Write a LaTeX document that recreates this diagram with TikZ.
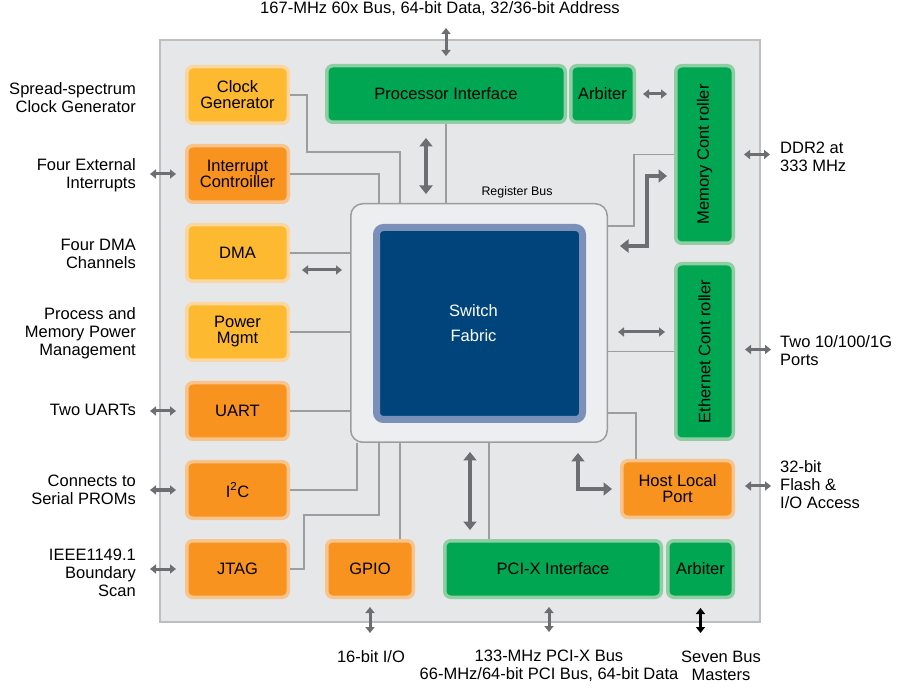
\documentclass[tikz,border=0pt]{standalone}
\usepackage{fontspec}
\setmainfont{Liberation Sans}
\usetikzlibrary{arrows.meta}
\definecolor{diebg}{HTML}{E6E7E8}
\definecolor{dieedge}{HTML}{BDBEC0}
\definecolor{busgray}{HTML}{9C9D9F}
\definecolor{arrgray}{HTML}{6D6E71}
\definecolor{yelfill}{HTML}{FDB92F}
\definecolor{yelhalo}{HTML}{FAD6A0}
\definecolor{orgfill}{HTML}{F7931E}
\definecolor{orghalo}{HTML}{F8C48E}
\definecolor{grnfill}{HTML}{00A651}
\definecolor{grnhalo}{HTML}{8FCEA3}
\definecolor{fabfill}{HTML}{00447C}
\definecolor{fabedge}{HTML}{7B90B9}
\begin{document}
\begin{tikzpicture}[x=1pt, y=-1pt]
\tikzstyle{blk}=[rectangle, rounded corners=6pt, line width=3.5pt, inner sep=0pt, align=center, font=\fontsize{16.5}{16}\selectfont]
\tikzstyle{yel}=[blk, fill=yelfill, draw=yelhalo]
\tikzstyle{org}=[blk, fill=orgfill, draw=orghalo]
\tikzstyle{grn}=[blk, fill=grnfill, draw=grnhalo]
\tikzstyle{lft}=[minimum width=101.5pt, minimum height=56.5pt]
\tikzstyle{bus}=[draw=busgray, line width=1.6pt]
\tikzstyle{biarr}=[{Triangle[length=6pt,width=9pt]}-{Triangle[length=6pt,width=9pt]}, draw=arrgray, line width=3pt]
\tikzstyle{fat}=[{Triangle[length=8.5pt,width=13pt]}-{Triangle[length=8.5pt,width=13pt]}, draw=arrgray, line width=4.5pt, line join=miter]
\tikzstyle{lbl}=[inner sep=0pt, font=\fontsize{16.5}{18}\selectfont]
\useasboundingbox (0,0) rectangle (900,700);
\fill[white] (0,0) rectangle (900,700);
\node[fill=diebg, draw=dieedge, line width=1.2pt, minimum width=600pt, minimum height=582pt] (die) at (460,331) {};
% switch fabric
\node[fill=diebg!70!white, draw=busgray, line width=1.5pt, rounded corners=12pt, minimum width=256.5pt, minimum height=238.5pt] (sw) at (479,323) {};
\node[fill=fabfill, draw=fabedge, line width=7pt, rounded corners=7pt, minimum width=206pt, minimum height=192pt,
  label={[xshift=-6pt, text=white, align=center, font=\fontsize{16.5}{25}\selectfont]center:{Switch\\ Fabric}}] (fab) at (479.5,323.5) {};
\node[font=\fontsize{12.4}{14}\selectfont, inner sep=0pt] (rbus) at (517,192) {Register Bus};
% left column
\node[yel, lft] (clk)  at (237.5,95)  {Clock\\Generator};
\node[org, lft] (irq)  at (237.5,174) {Interrupt\\Controiller};
\node[yel, lft] (dma)  at (237.5,253) {DMA};
\node[yel, lft] (pwr)  at (237.5,332) {Power\\Mgmt};
\node[org, lft] (uart) at (237.5,411) {UART};
\node[org, lft] (iic)  at (237.5,490) {I\textsuperscript{2}C};
\node[org, lft] (jtag) at (237.5,569) {JTAG};
\node[org, minimum width=86.5pt, minimum height=56.5pt] (gpio) at (370,569) {GPIO};
% top, right and bottom
\node[grn, minimum width=238.5pt, minimum height=56.5pt] (proc) at (446,94) {Processor Interface};
\node[grn, minimum width=63.5pt, minimum height=56.5pt] (arb1) at (602.5,94) {Arbiter};
\node[grn, minimum width=57.5pt, minimum height=177.5pt] (mem) at (704.5,154.5) {};
\node[rotate=90, font=\fontsize{16.5}{16}\selectfont] (memt) at (mem.center) {Memory Cont roller};
\node[grn, minimum width=57.5pt, minimum height=175.5pt] (eth) at (704.5,351.5) {};
\node[rotate=90, font=\fontsize{16.5}{16}\selectfont] (etht) at (eth.center) {Ethernet Cont roller};
\node[org, minimum width=111.5pt, minimum height=56.5pt] (host) at (677.5,489) {Host Local\\Port};
\node[grn, minimum width=216.5pt, minimum height=56.5pt] (pci) at (553,569) {PCI-X Interface};
\node[grn, minimum width=65.5pt, minimum height=56.5pt] (arb2) at (700.5,569) {Arbiter};
% register bus lines
\draw[bus] (clk.east) -| (307,152) -| ([xshift=50pt]sw.north west);
\draw[bus] (irq.east) -| ([xshift=29pt]sw.north west);
\draw[bus] (proc.south) -- (proc.south |- sw.north);
\draw[bus] (dma.east) -- (dma.east -| sw.west);
\draw[bus] (pwr.east) -- (pwr.east -| sw.west);
\draw[bus] (uart.east) -- (uart.east -| sw.west);
\draw[bus] (iic.east) -| ([xshift=7pt]sw.south west);
\draw[bus] (jtag.east) -| (304,515) -| ([xshift=29pt]sw.south west);
\draw[bus] ([xshift=30pt]gpio.north) -- ([xshift=50pt]sw.south west);
\draw[bus] ([xshift=-64pt]pci.north) -- ([xshift=139pt]sw.south west);
\draw[bus] (mem.west) -| (634,226) -- ([yshift=-23pt]sw.north east);
\draw[bus] (eth.west) -- (eth.west -| sw.east);
\draw[bus] ([xshift=-41.5pt]host.north) |- ([yshift=30pt]sw.south east);
% data paths
\draw[fat] ([xshift=-20pt,yshift=-14pt]proc.south) -- ([xshift=-53pt,yshift=9pt]sw.north);
\draw[biarr] ([xshift=12pt,yshift=-17pt]dma.east) -- ([xshift=-8pt,yshift=53pt]sw.west);
\draw[biarr] ([xshift=7pt]arb1.east) -- ([xshift=-7pt,yshift=60.5pt]mem.west);
\draw[fat] ([xshift=12pt,yshift=-43pt]sw.north east) -| (647,176) -- ([xshift=-7pt,yshift=-21.5pt]mem.west);
\draw[biarr] ([xshift=10pt,yshift=-9pt]sw.east) -- ([xshift=-9pt,yshift=19.5pt]eth.west);
\draw[fat] ([xshift=-30pt,yshift=-10pt]sw.south east) |- ([xshift=-8pt]host.west);
\draw[fat] ([xshift=-9pt,yshift=-9pt]sw.south) -- ([xshift=-83pt,yshift=9pt]pci.north);
% pins
\draw[biarr] ([yshift=8pt]proc.north) -- ([yshift=36pt]proc.north);
\draw[biarr] ([xshift=9pt]mem.east) -- ([xshift=35pt]mem.east);
\draw[biarr] ([xshift=10pt,yshift=2pt]eth.east) -- ([xshift=36pt,yshift=2pt]eth.east);
\draw[biarr] ([xshift=10pt,yshift=3pt]host.east) -- ([xshift=36pt,yshift=3pt]host.east);
\draw[biarr] ([xshift=-9pt]irq.west) -- ([xshift=-35pt]irq.west);
\draw[biarr] ([xshift=-9pt]uart.west) -- ([xshift=-35pt]uart.west);
\draw[biarr] ([xshift=-9pt]iic.west) -- ([xshift=-35pt]iic.west);
\draw[biarr] ([xshift=-9pt]jtag.west) -- ([xshift=-35pt]jtag.west);
\draw[biarr] ([yshift=-8pt]gpio.south) -- ([yshift=-34pt]gpio.south);
\draw[biarr] ([xshift=-4pt,yshift=-8pt]pci.south) -- ([xshift=-4pt,yshift=-33pt]pci.south);
\draw[biarr, draw=black] ([yshift=-9pt]arb2.south) -- ([yshift=-34pt]arb2.south);
% outside labels
\node[lbl] (topl) at (440,9) {167-MHz 60x Bus, 64-bit Data, 32/36-bit Address};
\node[lbl, anchor=east, align=right] (clkl)  at (136,98)  {Spread-spectrum\\Clock Generator};
\node[lbl, anchor=east, align=right] (irql)  at (136,175.5) {Four External\\Interrupts};
\node[lbl, anchor=east, align=right] (dmal)  at (136,253.5) {Four DMA\\Channels};
\node[lbl, anchor=east, align=right] (pwrl)  at (136,333) {Process and\\Memory Power\\Management};
\node[lbl, anchor=east, align=right] (uartl) at (136,410) {Two UARTs};
\node[lbl, anchor=east, align=right] (iicl)  at (136,489.5) {Connects to\\Serial PROMs};
\node[lbl, anchor=east, align=right] (jtagl) at (136,573) {IEEE1149.1\\Boundary\\Scan};
\node[lbl, anchor=west, align=left] (meml)  at (780,156.5) {DDR2 at\\333 MHz};
\node[lbl, anchor=west, align=left] (ethl)  at (780,350.5) {Two 10/100/1G\\Ports};
\node[lbl, anchor=west, align=left] (hostl) at (780,485) {32-bit\\Flash \&\\I/O Access};
\node[lbl] (gpiol) at (371,657) {16-bit I/O};
\node[lbl, align=center] (pcil) at (549,666) {133-MHz PCI-X Bus\\66-MHz/64-bit PCI Bus, 64-bit Data};
\node[lbl, align=center] (arbl) at (721,666) {Seven Bus\\Masters};
\end{tikzpicture}
\end{document}
